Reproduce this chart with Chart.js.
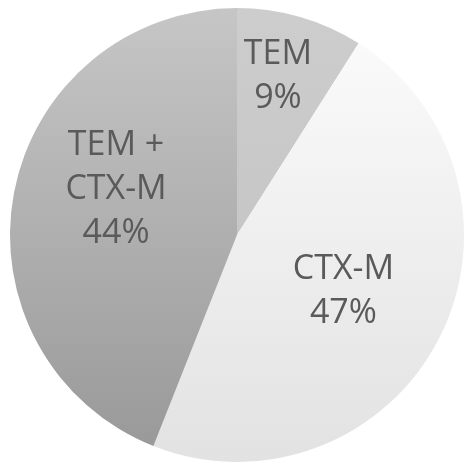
<!DOCTYPE html>
<html>
<head>
<meta charset="utf-8">
<script src="https://cdn.jsdelivr.net/npm/chart.js@4"></script>
<style>
  html, body { margin: 0; padding: 0; background: #ffffff; }
  #wrap { width: 464px; height: 466px; position: relative; }
</style>
</head>
<body>
<div id="wrap"><canvas id="pie"></canvas></div>
<script>
// Share of isolates by beta-lactamase gene type
const categories = ['TEM', 'CTX-M', 'TEM + CTX-M'];
const labelLines = [['TEM'], ['CTX-M'], ['TEM +', 'CTX-M']];
const shares = [9, 47, 44];

// vertical shading for each slice: [top colour, bottom colour]
const sliceShades = [
  ['#cdcdcd', '#c0c0c0'],
  ['#fcfcfc', '#e2e2e2'],
  ['#c6c6c6', '#989898']
];

// where each label sits: fraction of the radius, and turn from the slice middle (deg)
const labelPlace = [
  { r: 0.72, turn: -1.7 },
  { r: 0.53, turn: 0.8 },
  { r: 0.57, turn: 10 }
];

function shade(ctx) {
  const chart = ctx.chart;
  const area = chart.chartArea;
  if (!area) return sliceShades[ctx.dataIndex][0];
  const s = sliceShades[ctx.dataIndex];
  const g = chart.ctx.createLinearGradient(0, area.top, 0, area.bottom);
  g.addColorStop(0, s[0]);
  g.addColorStop(1, s[1]);
  return g;
}

const sliceLabels = {
  id: 'sliceLabels',
  afterDatasetsDraw(chart) {
    const ctx = chart.ctx;
    const arcs = chart.getDatasetMeta(0).data;
    ctx.save();
    ctx.font = '34px "Open Sans", "Noto Sans", sans-serif';
    ctx.fillStyle = '#5a5a5a';
    ctx.textAlign = 'center';
    ctx.textBaseline = 'middle';
    const lineH = 44;
    arcs.forEach((arc, i) => {
      const p = arc.getProps(['x', 'y', 'startAngle', 'endAngle', 'outerRadius'], true);
      const mid = (p.startAngle + p.endAngle) / 2 + labelPlace[i].turn * Math.PI / 180;
      const rr = p.outerRadius * labelPlace[i].r;
      const cx = p.x + Math.cos(mid) * rr;
      const cy = p.y + Math.sin(mid) * rr;
      const lines = labelLines[i].concat([shares[i] + '%']);
      const top = cy - (lines.length - 1) * lineH / 2;
      lines.forEach((t, k) => ctx.fillText(t, cx, top + k * lineH));
    });
    ctx.restore();
  }
};

new Chart(document.getElementById('pie'), {
  type: 'pie',
  data: {
    labels: categories,
    datasets: [{
      data: shares,
      backgroundColor: shade,
      borderWidth: 0
    }]
  },
  options: {
    responsive: true,
    maintainAspectRatio: false,
    animation: false,
    layout: { padding: { left: 10, right: 0, top: 8, bottom: 4 } },
    plugins: {
      legend: { display: false },
      tooltip: { enabled: false }
    }
  },
  plugins: [sliceLabels]
});
</script>
</body>
</html>
